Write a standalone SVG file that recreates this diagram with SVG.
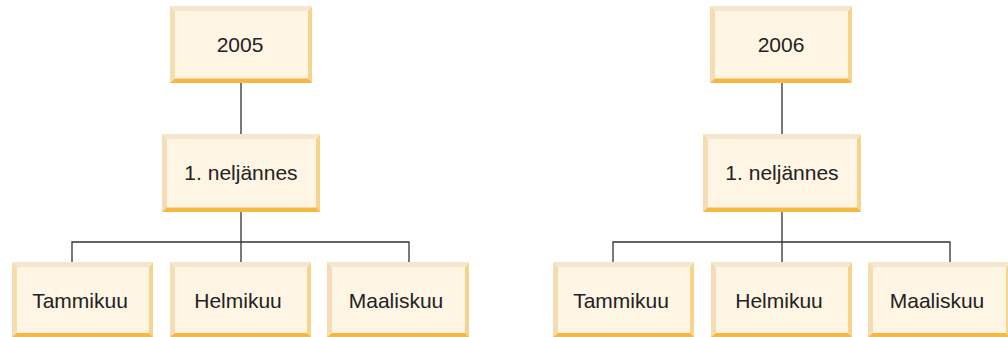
<svg xmlns="http://www.w3.org/2000/svg" width="1008" height="337" viewBox="0 0 1008 337">
<style>
.bg{fill:#fef5e4}
.t{fill:#f5e7cf}
.l{fill:#f4ddb2}
.r{fill:#f6d48d}
.b{fill:#f5b843}
.lbl{font-family:"Liberation Sans",Arial,sans-serif;font-size:21px;fill:#222;text-anchor:middle}
.c{stroke:#333;stroke-width:1.3;fill:none}
</style>
<rect width="1008" height="337" fill="#fff"/>
<g id="connectors">
<path class="c" d="M241,83V134M241,212V262M72,262V242H409V262"/>
<path class="c" d="M782,83V134M782,212V262M613,262V242H950V262"/>
</g>
<g id="n2005">
<rect class="bg" x="170" y="6" width="142" height="77"/>
<polygon class="t" points="170,6 312,6 307,11 175,11"/>
<polygon class="l" points="170,6 175,11 175,79 170,83"/>
<polygon class="r" points="312,6 312,83 308,79 308,11"/>
<polygon class="b" points="170,83 312,83 308,78.5 175,78.5"/>
<text class="lbl" x="240" y="52">2005</text>
</g>
<g id="nq1a">
<rect class="bg" x="162" y="134" width="158" height="78"/>
<polygon class="t" points="162,134 320,134 315,139 167,139"/>
<polygon class="l" points="162,134 167,139 167,208 162,212"/>
<polygon class="r" points="320,134 320,212 316,208 316,139"/>
<polygon class="b" points="162,212 320,212 316,207.5 167,207.5"/>
<text class="lbl" x="241" y="180">1. neljännes</text>
</g>
<g id="ntam1">
<rect class="bg" x="12" y="262" width="141" height="75"/>
<polygon class="t" points="12,262 153,262 148,267 17,267"/>
<polygon class="l" points="12,262 17,267 17,333 12,337"/>
<polygon class="r" points="153,262 153,337 149,333 149,267"/>
<polygon class="b" points="12,337 153,337 149,333 17,333"/>
<text class="lbl" x="80" y="308">Tammikuu</text>
</g>
<g id="nhel1">
<rect class="bg" x="170" y="262" width="141" height="75"/>
<polygon class="t" points="170,262 311,262 306,267 175,267"/>
<polygon class="l" points="170,262 175,267 175,333 170,337"/>
<polygon class="r" points="311,262 311,337 307,333 307,267"/>
<polygon class="b" points="170,337 311,337 307,333 175,333"/>
<text class="lbl" x="238" y="308">Helmikuu</text>
</g>
<g id="nmaa1">
<rect class="bg" x="327" y="262" width="142" height="75"/>
<polygon class="t" points="327,262 469,262 464,267 332,267"/>
<polygon class="l" points="327,262 332,267 332,333 327,337"/>
<polygon class="r" points="469,262 469,337 465,333 465,267"/>
<polygon class="b" points="327,337 469,337 465,333 332,333"/>
<text class="lbl" x="396" y="308">Maaliskuu</text>
</g>
<g id="n2006">
<rect class="bg" x="710" y="6" width="142" height="77"/>
<polygon class="t" points="710,6 852,6 847,11 715,11"/>
<polygon class="l" points="710,6 715,11 715,79 710,83"/>
<polygon class="r" points="852,6 852,83 848,79 848,11"/>
<polygon class="b" points="710,83 852,83 848,78.5 715,78.5"/>
<text class="lbl" x="781" y="52">2006</text>
</g>
<g id="nq1b">
<rect class="bg" x="703" y="134" width="158" height="78"/>
<polygon class="t" points="703,134 861,134 856,139 708,139"/>
<polygon class="l" points="703,134 708,139 708,208 703,212"/>
<polygon class="r" points="861,134 861,212 857,208 857,139"/>
<polygon class="b" points="703,212 861,212 857,207.5 708,207.5"/>
<text class="lbl" x="782" y="180">1. neljännes</text>
</g>
<g id="ntam2">
<rect class="bg" x="553" y="262" width="141" height="75"/>
<polygon class="t" points="553,262 694,262 689,267 558,267"/>
<polygon class="l" points="553,262 558,267 558,333 553,337"/>
<polygon class="r" points="694,262 694,337 690,333 690,267"/>
<polygon class="b" points="553,337 694,337 690,333 558,333"/>
<text class="lbl" x="621" y="308">Tammikuu</text>
</g>
<g id="nhel2">
<rect class="bg" x="711" y="262" width="141" height="75"/>
<polygon class="t" points="711,262 852,262 847,267 716,267"/>
<polygon class="l" points="711,262 716,267 716,333 711,337"/>
<polygon class="r" points="852,262 852,337 848,333 848,267"/>
<polygon class="b" points="711,337 852,337 848,333 716,333"/>
<text class="lbl" x="779" y="308">Helmikuu</text>
</g>
<g id="nmaa2">
<rect class="bg" x="868" y="262" width="142" height="75"/>
<polygon class="t" points="868,262 1010,262 1005,267 873,267"/>
<polygon class="l" points="868,262 873,267 873,333 868,337"/>
<polygon class="r" points="1010,262 1010,337 1006,333 1006,267"/>
<polygon class="b" points="868,337 1010,337 1006,333 873,333"/>
<text class="lbl" x="937" y="308">Maaliskuu</text>
</g>
</svg>
